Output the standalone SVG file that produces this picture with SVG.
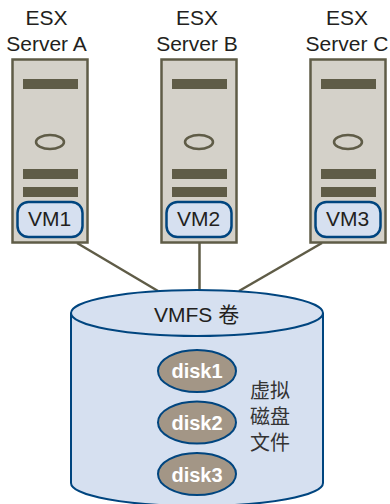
<svg xmlns="http://www.w3.org/2000/svg" width="390" height="504" viewBox="0 0 390 504">
<style>
.t{font-family:"Liberation Sans",Arial,sans-serif;fill:#231f20;font-size:21px;text-anchor:middle}
.c{font-family:"Liberation Sans","Noto Sans CJK SC",sans-serif;fill:#333;font-size:20px;text-anchor:middle}
.box{fill:#d4d1c9;stroke:#5f5c47;stroke-width:2.5}
.bar{fill:#5f5c47}
.led{fill:none;stroke:#5f5c47;stroke-width:2.5}
.vm{fill:#d6e0f0;stroke:#00457f;stroke-width:2.5}
.conn{stroke:#5f5c47;stroke-width:2.5;fill:none}
.cyl{fill:#d6e0f0;stroke:#00457f;stroke-width:2}
.disk{fill:#a39686;stroke:#00457f;stroke-width:2}
.d{font-family:"Liberation Sans",Arial,sans-serif;font-weight:bold;font-size:20px;fill:#fff;text-anchor:middle}
</style>
<defs>
<g id="srv">
<rect class="box" x="12.5" y="59.500" width="75" height="183"/>
<rect class="bar" x="23" y="79" width="55" height="10"/>
<ellipse class="led" cx="50" cy="142" rx="14" ry="7"/>
<rect class="bar" x="23" y="169" width="55" height="10"/>
<rect class="bar" x="23" y="187" width="55" height="10"/>
<rect class="vm" x="17.5" y="202" width="65" height="35" rx="11"/>
</g>
</defs>
<g id="connectors">
<line class="conn" x1="77" y1="243" x2="158" y2="291"/>
<line class="conn" x1="199.500" y1="243" x2="199.500" y2="291"/>
<line class="conn" x1="322" y1="243" x2="239" y2="291"/>
</g>
<g id="server-a"><use href="#srv"/><text class="t" x="46.500" y="25">ESX</text><text class="t" x="46.500" y="51">Server A</text><text class="t" x="49.500" y="226">VM1</text></g>
<g id="server-b"><use href="#srv" x="149"/><text class="t" x="197" y="25">ESX</text><text class="t" x="197" y="51">Server B</text><text class="t" x="198.500" y="226">VM2</text></g>
<g id="server-c"><use href="#srv" x="298"/><text class="t" x="347" y="25">ESX</text><text class="t" x="347" y="51">Server C</text><text class="t" x="347.500" y="226">VM3</text></g>
<g id="vmfs">
<path class="cyl" d="M71 313V483A126 23 0 0 0 323 483V313"/>
<ellipse class="cyl" cx="197" cy="313" rx="126" ry="23"/>
<text class="t" x="154" y="322" style="text-anchor:start;font-family:'Liberation Sans','Noto Sans CJK SC',sans-serif">VMFS 卷</text>
</g>
<g id="disk1"><ellipse class="disk" cx="197" cy="371" rx="39" ry="21"/><text class="d" x="197" y="378">disk1</text></g>
<g id="disk2"><ellipse class="disk" cx="197" cy="422.500" rx="39" ry="21"/><text class="d" x="197" y="430">disk2</text></g>
<g id="disk3"><ellipse class="disk" cx="197" cy="474" rx="39" ry="21"/><text class="d" x="197" y="481.500">disk3</text></g>
<g id="label"><text class="c" x="270" y="398">虚拟</text><text class="c" x="270" y="424">磁盘</text><text class="c" x="270" y="450">文件</text></g>
</svg>
